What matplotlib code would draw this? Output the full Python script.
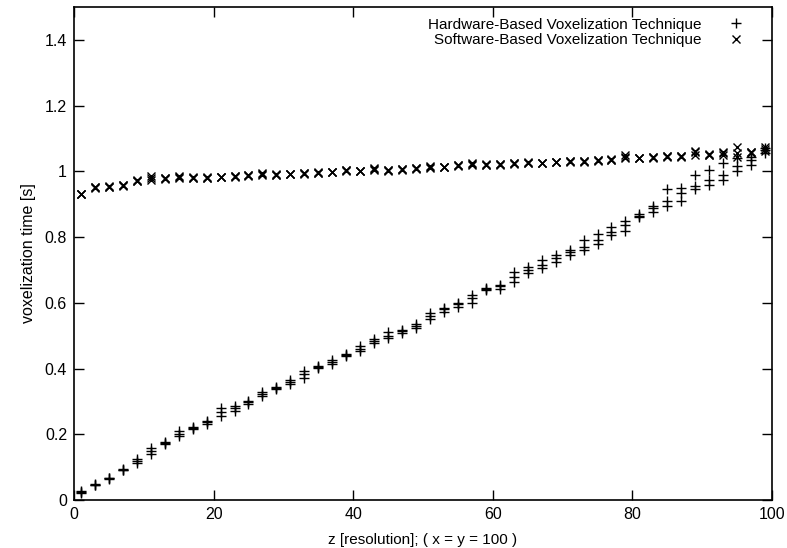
import numpy as np
import matplotlib
matplotlib.use('Agg')
import matplotlib.pyplot as plt
from matplotlib.ticker import FormatStrFormatter

plt.rcParams['font.family'] = ['Liberation Sans', 'DejaVu Sans']

# z resolution (odd values 1..99), three runs per technique
z = list(range(1, 100, 2))

hw_run1 = [0.022, 0.045, 0.065, 0.090, 0.112, 0.140, 0.170, 0.195, 0.215, 0.230,
           0.255, 0.272, 0.292, 0.315, 0.338, 0.352, 0.372, 0.402, 0.415, 0.437,
           0.452, 0.478, 0.492, 0.508, 0.522, 0.552, 0.572, 0.588, 0.600, 0.638,
           0.642, 0.662, 0.690, 0.705, 0.725, 0.745, 0.760, 0.780, 0.805, 0.820,
           0.860, 0.875, 0.895, 0.910, 0.945, 0.960, 0.975, 1.000, 1.020, 1.055]
hw_run2 = [0.028, 0.050, 0.068, 0.093, 0.120, 0.150, 0.178, 0.202, 0.220, 0.236,
           0.268, 0.280, 0.300, 0.322, 0.345, 0.358, 0.382, 0.408, 0.420, 0.443,
           0.460, 0.485, 0.500, 0.515, 0.530, 0.560, 0.580, 0.595, 0.615, 0.645,
           0.650, 0.680, 0.700, 0.715, 0.735, 0.755, 0.770, 0.792, 0.815, 0.838,
           0.865, 0.890, 0.910, 0.935, 0.955, 0.975, 0.990, 1.015, 1.035, 1.065]
hw_run3 = [0.025, 0.047, 0.066, 0.091, 0.125, 0.158, 0.174, 0.210, 0.222, 0.240,
           0.280, 0.285, 0.297, 0.328, 0.342, 0.365, 0.392, 0.405, 0.425, 0.440,
           0.468, 0.490, 0.510, 0.518, 0.535, 0.570, 0.585, 0.600, 0.625, 0.643,
           0.655, 0.695, 0.710, 0.730, 0.745, 0.760, 0.790, 0.810, 0.830, 0.850,
           0.870, 0.895, 0.945, 0.950, 0.990, 1.005, 1.025, 1.040, 1.045, 1.070]

sw_run1 = [0.930, 0.950, 0.952, 0.955, 0.970, 0.975, 0.978, 0.980, 0.980, 0.980,
           0.982, 0.985, 0.987, 0.990, 0.990, 0.992, 0.993, 0.995, 0.997, 1.000,
           1.000, 1.003, 1.003, 1.005, 1.008, 1.010, 1.012, 1.015, 1.018, 1.020,
           1.020, 1.022, 1.025, 1.025, 1.028, 1.030, 1.030, 1.032, 1.035, 1.040,
           1.040, 1.042, 1.045, 1.045, 1.050, 1.050, 1.050, 1.055, 1.058, 1.062]
sw_run2 = [0.932, 0.952, 0.953, 0.960, 0.975, 0.980, 0.980, 0.985, 0.982, 0.981,
           0.984, 0.986, 0.990, 0.995, 0.991, 0.993, 0.996, 0.998, 0.998, 1.005,
           1.002, 1.010, 1.004, 1.006, 1.010, 1.015, 1.014, 1.020, 1.025, 1.021,
           1.022, 1.025, 1.030, 1.026, 1.030, 1.032, 1.033, 1.035, 1.037, 1.050,
           1.041, 1.045, 1.048, 1.047, 1.058, 1.052, 1.055, 1.075, 1.060, 1.075]
sw_run3 = [0.931, 0.951, 0.954, 0.958, 0.972, 0.985, 0.979, 0.983, 0.981, 0.982,
           0.983, 0.984, 0.988, 0.993, 0.990, 0.992, 0.994, 0.996, 0.999, 1.003,
           1.001, 1.008, 1.002, 1.006, 1.009, 1.012, 1.013, 1.018, 1.022, 1.020,
           1.021, 1.024, 1.027, 1.026, 1.029, 1.031, 1.031, 1.034, 1.036, 1.045,
           1.041, 1.043, 1.046, 1.046, 1.062, 1.051, 1.060, 1.045, 1.057, 1.068]

hw_x = z * 3
hw_y = hw_run1 + hw_run2 + hw_run3
sw_x = z * 3
sw_y = sw_run1 + sw_run2 + sw_run3

fig = plt.figure(figsize=(7.87, 5.48), dpi=100)
ax = fig.add_axes([0.094, 0.0876, 0.887, 0.8995])

ax.plot(hw_x, hw_y, linestyle='none', marker='+', color='black',
        markersize=7, markeredgewidth=1.0,
        label='Hardware-Based Voxelization Technique')
ax.plot(sw_x, sw_y, linestyle='none', marker='x', color='black',
        markersize=6, markeredgewidth=1.0,
        label='Software-Based Voxelization Technique')

ax.set_xlim(0, 100)
ax.set_ylim(0, 1.5)
ax.set_xticks([0, 20, 40, 60, 80, 100])
ax.set_yticks([0, 0.2, 0.4, 0.6, 0.8, 1.0, 1.2, 1.4])
ax.yaxis.set_major_formatter(FormatStrFormatter('%g'))
ax.tick_params(direction='in', length=7, width=1.0, top=True, right=True,
               labelsize=11.5, pad=5)
for sp in ax.spines.values():
    sp.set_linewidth(1.2)

ax.set_xlabel('z [resolution]; ( x = y = 100 )', fontsize=11, labelpad=8)
ax.set_ylabel('voxelization time [s]', fontsize=11.5, labelpad=6)

leg = ax.legend(loc='upper right', bbox_to_anchor=(0.986, 1.0), frameon=False,
                markerfirst=False, fontsize=11, handlelength=2.0,
                handletextpad=1.3, labelspacing=0.1, borderaxespad=0.3)

plt.savefig('out.png', dpi=100)
